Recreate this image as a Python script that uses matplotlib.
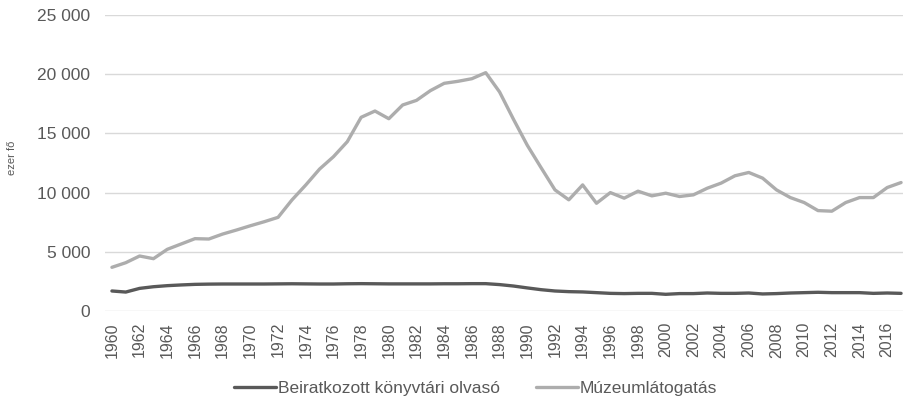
import matplotlib
matplotlib.use("Agg")
import matplotlib.pyplot as plt
from matplotlib.ticker import FuncFormatter

plt.rcParams['font.family'] = ['Liberation Sans', 'DejaVu Sans']

years = list(range(1960, 2018))
library = [1690, 1600, 1910, 2050, 2140, 2200, 2250, 2270, 2280, 2280,
           2280, 2280, 2290, 2300, 2290, 2280, 2280, 2300, 2310, 2300,
           2290, 2290, 2290, 2290, 2300, 2300, 2310, 2310, 2230, 2110,
           1950, 1800, 1690, 1635, 1610, 1550, 1490, 1470, 1490, 1490,
           1410, 1470, 1470, 1520, 1490, 1490, 1520, 1440, 1470, 1520,
           1550, 1580, 1550, 1550, 1550, 1490, 1520, 1490]
museum = [3690, 4080, 4645, 4420, 5210, 5660, 6110, 6080, 6500, 6840,
          7200, 7540, 7910, 9375, 10640, 11990, 13030, 14300, 16360, 16890,
          16240, 17400, 17790, 18610, 19230, 19400, 19620, 20130, 18500, 16200,
          14000, 12100, 10230, 9390, 10650, 9100, 10000, 9530, 10120, 9725,
          9950, 9670, 9810, 10370, 10800, 11420, 11700, 11220, 10230, 9580,
          9160, 8480, 8430, 9160, 9580, 9580, 10430, 10850]
series_names = ["Beiratkozott könyvtári olvasó", "Múzeumlátogatás"]
y_label = "ezer fő"

text_color = "#595959"
fig = plt.figure(figsize=(9.04, 4.01), dpi=100)
ax = fig.add_axes([105/904, 90/401, 803/904, 296/401])

x = list(range(len(years)))
l1, = ax.plot(x, library, color="#595959", lw=2.4, solid_capstyle='round', solid_joinstyle='round')
l2, = ax.plot(x, museum, color="#ADADAD", lw=2.4, solid_capstyle='round', solid_joinstyle='round')

ax.set_xlim(-0.5, len(years) - 0.5)
ax.set_ylim(0, 25000)
ax.set_yticks(range(0, 25001, 5000))
ax.yaxis.set_major_formatter(FuncFormatter(lambda v, p: f"{int(v):,}".replace(",", " ")))
ax.grid(axis='y', color="#D9D9D9", lw=1)
ax.set_axisbelow(True)
for s in ax.spines.values():
    s.set_visible(False)
ax.tick_params(axis='y', length=0, pad=10.5, labelsize=12.5, labelcolor=text_color)
ax.set_xticks(x[::2])
ax.set_xticklabels([str(y) for y in years[::2]], rotation=90)
ax.tick_params(axis='x', length=0, pad=8, labelsize=11.5, labelcolor=text_color)

fig.text(12/904, 1 - 158/401, y_label, rotation=90, ha='center', va='center',
         fontsize=8, color=text_color)

fig.legend([l1, l2], series_names, loc='center', bbox_to_anchor=(475.5/904, 1 - 388/401),
           ncol=2, frameon=False, fontsize=12.5, labelcolor=text_color,
           handlelength=2.4, handletextpad=0.1, columnspacing=2.1)

fig.savefig("out.png", dpi=100)
